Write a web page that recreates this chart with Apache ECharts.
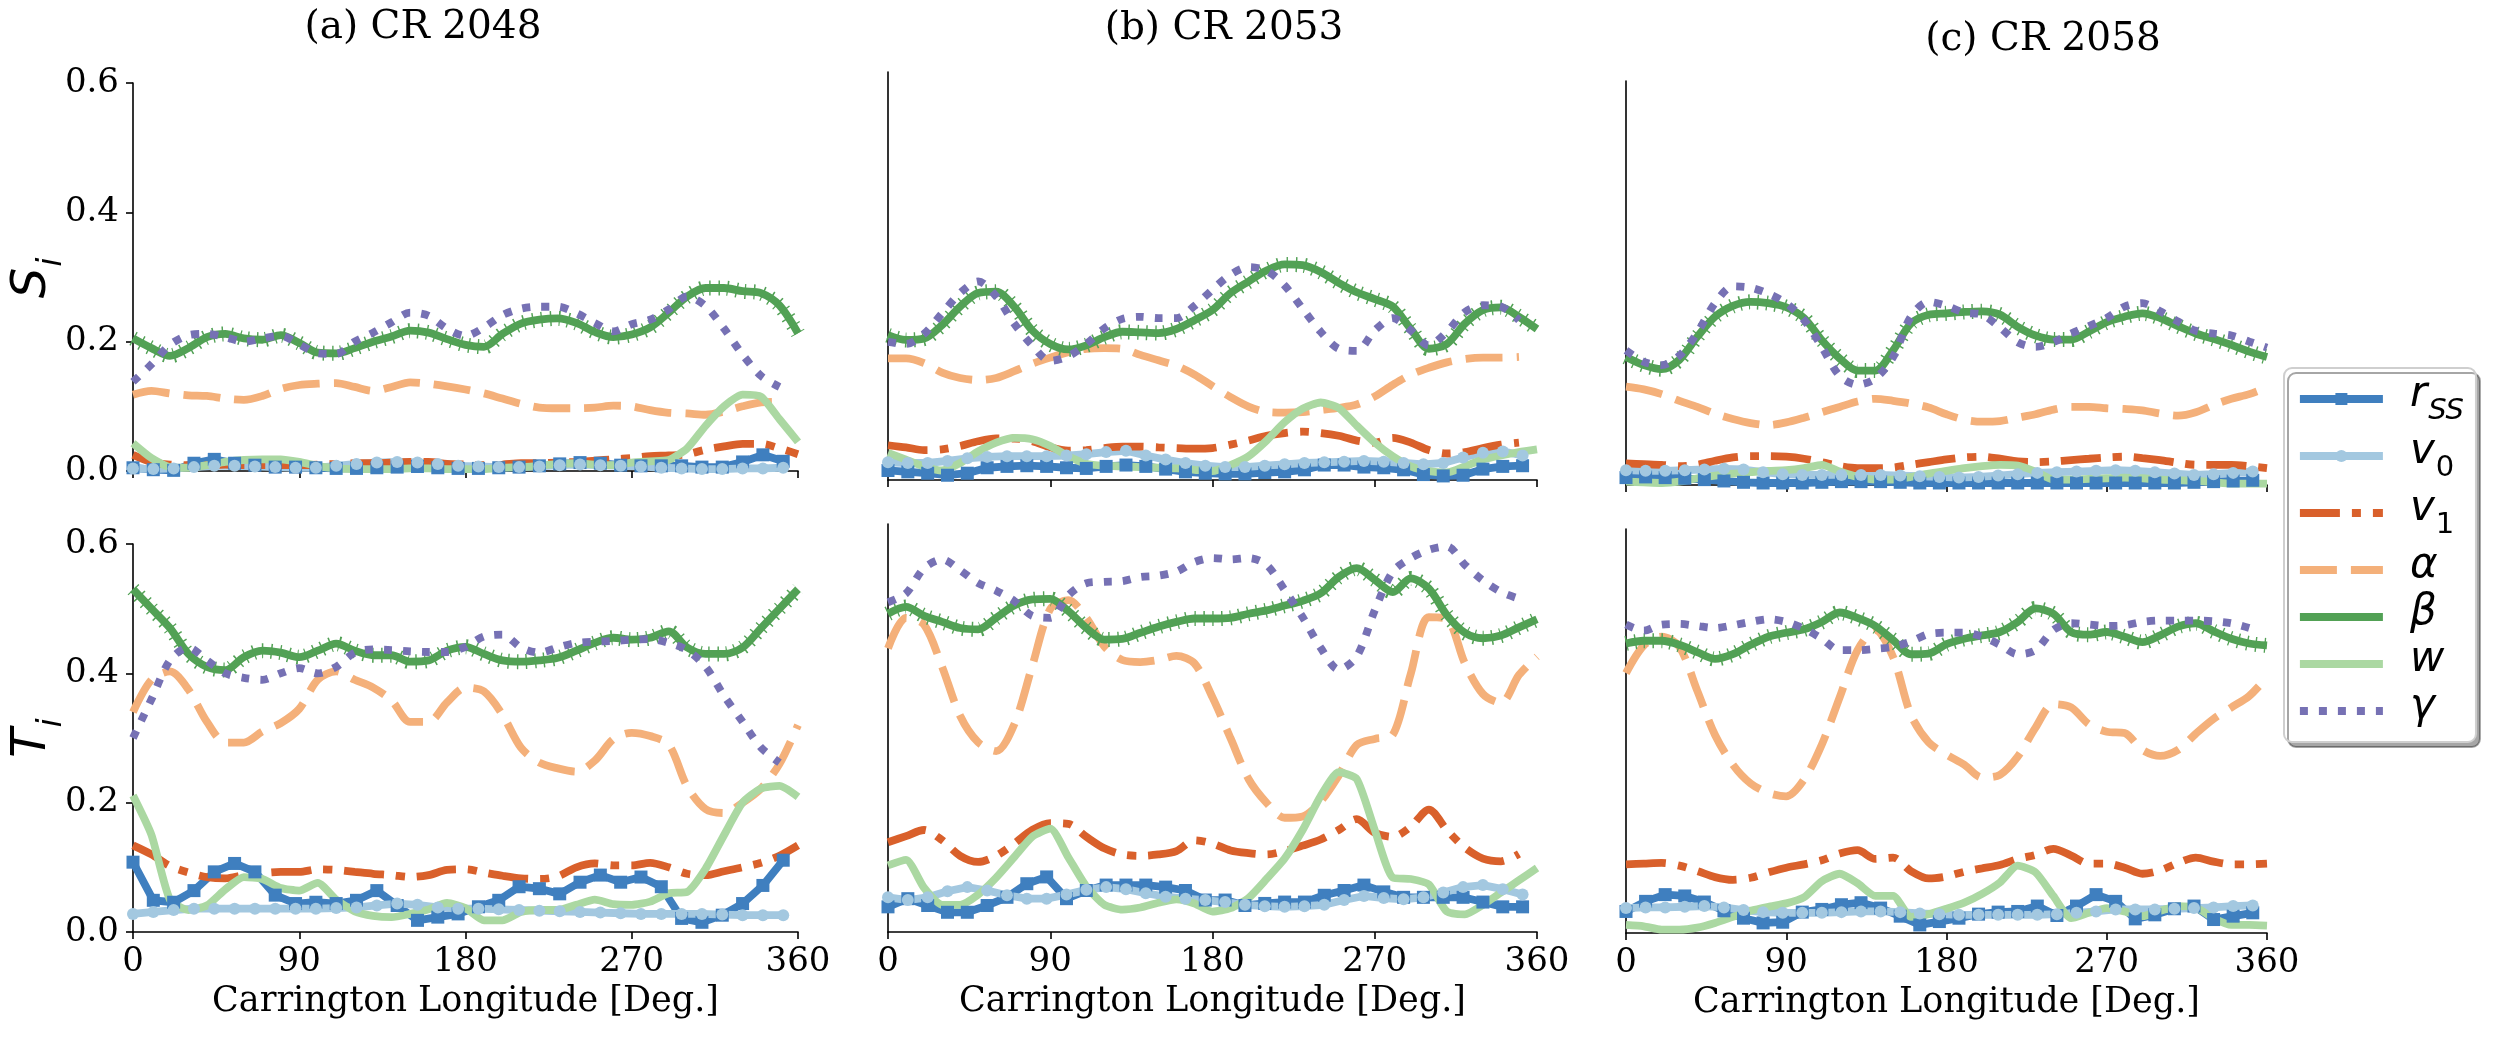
<!DOCTYPE html>
<html><head><meta charset="utf-8">
<script src="https://cdn.jsdelivr.net/npm/echarts@6/dist/echarts.min.js"></script>
<style>html,body{margin:0;padding:0;background:#fff}#c{width:2495px;height:1043px}</style>
</head><body><div id="c"></div>
<script>
// Longitude grids (degrees)
const LON = [0,10,20,30,40,50,60,70,80,90,100,110,120,130,140,150,160,170,180,190,200,210,220,230,240,250,260,270,280,290,300,310,320,330,340,350,360];
const LON_M = [0,11,22,33,44,55,66,77,88,99,110,121,132,143,154,165,176,187,198,209,220,231,242,253,264,275,286,297,308,319,330,341,352];

// (a) CR 2048, S_i
const A_S_RSS = [0.005,0.002,0.001,0.012,0.018,0.012,0.009,0.006,0.006,0.005,0.004,0.004,0.005,0.006,0.007,0.005,0.004,0.004,0.005,0.006,0.008,0.011,0.013,0.012,0.009,0.008,0.008,0.008,0.006,0.006,0.014,0.025,0.015];
const A_S_V0 = [0.004,0.003,0.004,0.006,0.008,0.008,0.007,0.006,0.005,0.005,0.008,0.011,0.013,0.014,0.013,0.011,0.008,0.007,0.006,0.006,0.007,0.009,0.01,0.009,0.008,0.007,0.005,0.004,0.003,0.003,0.004,0.004,0.005];
const A_S_V1 = [0.025,0.014,0.01,0.009,0.009,0.01,0.009,0.009,0.009,0.009,0.01,0.011,0.012,0.012,0.013,0.014,0.014,0.011,0.01,0.009,0.01,0.012,0.012,0.013,0.014,0.016,0.018,0.02,0.023,0.024,0.026,0.033,0.038,0.042,0.042,0.035,0.026];
const A_S_ALPHA = [0.118,0.124,0.12,0.117,0.116,0.112,0.11,0.116,0.127,0.133,0.135,0.136,0.13,0.124,0.13,0.137,0.135,0.131,0.126,0.12,0.112,0.104,0.098,0.097,0.097,0.098,0.101,0.1,0.094,0.09,0.089,0.087,0.092,0.1,0.106,0.107,null];
const A_S_BETA = [0.205,0.19,0.178,0.19,0.207,0.212,0.205,0.203,0.21,0.198,0.183,0.182,0.19,0.2,0.208,0.217,0.214,0.204,0.195,0.192,0.212,0.228,0.234,0.236,0.229,0.215,0.207,0.211,0.222,0.245,0.27,0.283,0.283,0.278,0.275,0.256,0.213];
const A_S_W = [0.043,0.02,0.006,0.005,0.009,0.014,0.017,0.018,0.018,0.014,0.008,0.004,0.003,0.003,0.003,0.004,0.004,0.003,0.003,0.003,0.005,0.006,0.008,0.011,0.012,0.01,0.009,0.013,0.015,0.017,0.035,0.07,0.1,0.118,0.115,0.08,0.045];
const A_S_GAMMA = [0.138,0.165,0.195,0.21,0.212,0.207,0.2,0.205,0.209,0.196,0.182,0.181,0.2,0.214,0.23,0.245,0.24,0.22,0.209,0.222,0.241,0.251,0.254,0.254,0.244,0.229,0.216,0.227,0.234,0.25,0.27,0.255,0.22,0.18,0.147,0.13,null];

// (a) CR 2048, T_i
const A_T_RSS = [0.108,0.049,0.046,0.064,0.093,0.106,0.093,0.057,0.044,0.046,0.044,0.049,0.064,0.041,0.018,0.023,0.028,0.039,0.049,0.07,0.067,0.059,0.077,0.088,0.077,0.085,0.07,0.021,0.015,0.026,0.044,0.072,0.111];
const A_T_V0 = [0.028,0.031,0.034,0.036,0.036,0.036,0.036,0.036,0.036,0.036,0.037,0.038,0.041,0.044,0.042,0.038,0.036,0.036,0.035,0.034,0.033,0.032,0.031,0.03,0.029,0.028,0.028,0.028,0.028,0.027,0.026,0.026,0.026];
const A_T_V1 = [0.134,0.12,0.102,0.092,0.085,0.083,0.088,0.091,0.093,0.093,0.097,0.096,0.093,0.09,0.088,0.085,0.088,0.096,0.097,0.092,0.087,0.083,0.082,0.086,0.1,0.106,0.103,0.103,0.107,0.1,0.09,0.088,0.094,0.1,0.107,0.118,0.134];
const A_T_ALPHA = [0.34,0.39,0.403,0.375,0.325,0.293,0.293,0.31,0.323,0.345,0.39,0.403,0.39,0.378,0.358,0.325,0.325,0.355,0.378,0.372,0.336,0.285,0.262,0.253,0.248,0.265,0.298,0.308,0.303,0.29,0.225,0.19,0.184,0.2,0.222,0.26,0.32];
const A_T_BETA = [0.53,0.5,0.47,0.43,0.41,0.405,0.425,0.435,0.432,0.425,0.435,0.446,0.435,0.428,0.428,0.418,0.42,0.435,0.441,0.43,0.42,0.418,0.42,0.424,0.435,0.447,0.455,0.452,0.455,0.465,0.44,0.43,0.43,0.44,0.47,0.5,0.53];
const A_T_W = [0.211,0.15,0.05,0.034,0.041,0.066,0.085,0.082,0.068,0.064,0.076,0.05,0.032,0.025,0.023,0.028,0.035,0.045,0.037,0.018,0.018,0.031,0.034,0.034,0.042,0.05,0.043,0.042,0.047,0.06,0.062,0.098,0.15,0.2,0.222,0.226,0.209];
const A_T_GAMMA = [0.3,0.36,0.42,0.44,0.42,0.4,0.393,0.39,0.4,0.408,0.4,0.41,0.432,0.437,0.436,0.434,0.433,0.433,0.441,0.457,0.46,0.44,0.432,0.44,0.447,0.449,0.45,0.452,0.453,0.447,0.436,0.41,0.365,0.325,0.285,0.262,null];

// (b) CR 2053, S_i
const B_S_RSS = [0.014,0.012,0.01,0.007,0.01,0.018,0.02,0.021,0.02,0.018,0.017,0.02,0.022,0.02,0.016,0.012,0.01,0.009,0.009,0.011,0.012,0.015,0.022,0.022,0.019,0.018,0.015,0.008,0.006,0.007,0.016,0.02,0.021];
const B_S_V0 = [0.026,0.025,0.025,0.028,0.032,0.034,0.035,0.035,0.035,0.036,0.038,0.041,0.043,0.036,0.03,0.025,0.021,0.019,0.019,0.021,0.023,0.025,0.026,0.027,0.028,0.027,0.025,0.023,0.025,0.033,0.04,0.042,0.036];
const B_S_V1 = [0.051,0.048,0.044,0.045,0.05,0.057,0.061,0.061,0.057,0.048,0.043,0.044,0.047,0.049,0.049,0.048,0.047,0.046,0.047,0.052,0.058,0.065,0.069,0.071,0.069,0.065,0.058,0.055,0.062,0.055,0.044,0.039,0.041,0.047,0.052,0.055,null];
const B_S_ALPHA = [0.179,0.179,0.172,0.158,0.15,0.147,0.15,0.16,0.171,0.18,0.188,0.193,0.194,0.193,0.184,0.176,0.168,0.155,0.138,0.122,0.108,0.1,0.099,0.1,0.103,0.106,0.111,0.123,0.14,0.155,0.165,0.173,0.178,0.18,0.18,0.181,null];
const B_S_BETA = [0.213,0.206,0.208,0.228,0.255,0.275,0.277,0.255,0.22,0.2,0.192,0.198,0.21,0.218,0.217,0.216,0.222,0.235,0.25,0.275,0.292,0.308,0.317,0.316,0.306,0.29,0.276,0.266,0.255,0.222,0.193,0.2,0.23,0.25,0.254,0.24,0.222];
const B_S_W = [0.04,0.03,0.02,0.014,0.025,0.042,0.055,0.062,0.06,0.05,0.035,0.024,0.021,0.02,0.019,0.018,0.017,0.015,0.013,0.022,0.035,0.058,0.085,0.105,0.114,0.106,0.08,0.055,0.035,0.02,0.013,0.011,0.02,0.03,0.036,0.041,0.045];
const B_S_GAMMA = [0.203,0.2,0.215,0.245,0.275,0.292,0.27,0.23,0.198,0.175,0.182,0.2,0.223,0.237,0.24,0.238,0.238,0.256,0.28,0.302,0.313,0.308,0.286,0.252,0.218,0.193,0.19,0.22,0.238,0.22,0.198,0.218,0.247,0.257,0.255,0.235,null];

// (b) CR 2053, T_i
const B_T_RSS = [0.037,0.049,0.039,0.029,0.029,0.039,0.051,0.071,0.081,0.049,0.061,0.069,0.069,0.069,0.066,0.061,0.047,0.047,0.039,0.042,0.044,0.044,0.054,0.061,0.069,0.059,0.051,0.051,0.051,0.051,0.044,0.037,0.037];
const B_T_V0 = [0.051,0.047,0.051,0.06,0.066,0.061,0.054,0.049,0.049,0.055,0.062,0.066,0.063,0.057,0.052,0.049,0.047,0.044,0.04,0.038,0.037,0.038,0.04,0.047,0.053,0.05,0.048,0.051,0.058,0.066,0.069,0.063,0.055];
const B_T_V1 = [0.132,0.141,0.15,0.135,0.112,0.103,0.112,0.13,0.15,0.16,0.159,0.14,0.123,0.114,0.112,0.114,0.119,0.135,0.13,0.12,0.116,0.114,0.119,0.127,0.136,0.15,0.166,0.146,0.14,0.155,0.18,0.15,0.124,0.108,0.104,0.115,null];
const B_T_ALPHA = [0.417,0.462,0.452,0.39,0.318,0.279,0.266,0.305,0.391,0.475,0.488,0.462,0.42,0.4,0.397,0.4,0.406,0.395,0.345,0.285,0.225,0.19,0.168,0.17,0.192,0.23,0.275,0.284,0.29,0.38,0.463,0.46,0.395,0.35,0.337,0.378,0.405];
const B_T_BETA = [0.468,0.478,0.465,0.456,0.447,0.445,0.462,0.48,0.489,0.49,0.472,0.447,0.43,0.431,0.44,0.449,0.456,0.461,0.461,0.462,0.468,0.473,0.48,0.487,0.498,0.522,0.535,0.518,0.5,0.52,0.505,0.466,0.44,0.432,0.436,0.448,0.46];
const B_T_W = [0.098,0.106,0.065,0.04,0.04,0.055,0.08,0.11,0.14,0.152,0.11,0.067,0.04,0.033,0.036,0.043,0.048,0.042,0.03,0.035,0.05,0.078,0.108,0.15,0.2,0.235,0.225,0.15,0.08,0.078,0.07,0.03,0.026,0.04,0.058,0.076,0.094];
const B_T_GAMMA = [0.485,0.498,0.535,0.548,0.532,0.513,0.502,0.487,0.465,0.462,0.495,0.513,0.515,0.516,0.522,0.524,0.53,0.544,0.55,0.548,0.55,0.54,0.503,0.463,0.418,0.386,0.405,0.473,0.53,0.55,0.562,0.567,0.54,0.517,0.5,0.49,null];

// (c) CR 2058, S_i
const C_S_RSS = [0.011,0.012,0.011,0.01,0.008,0.006,0.004,0.003,0.003,0.003,0.004,0.005,0.005,0.005,0.004,0.003,0.003,0.003,0.003,0.003,0.003,0.003,0.003,0.003,0.003,0.003,0.003,0.003,0.003,0.004,0.005,0.006,0.007];
const C_S_V0 = [0.022,0.021,0.021,0.022,0.023,0.024,0.023,0.019,0.016,0.015,0.015,0.015,0.015,0.015,0.014,0.013,0.012,0.011,0.012,0.014,0.016,0.018,0.019,0.02,0.021,0.022,0.021,0.019,0.017,0.015,0.016,0.018,0.02];
const C_S_V1 = [0.032,0.031,0.03,0.028,0.03,0.036,0.041,0.043,0.043,0.042,0.039,0.034,0.028,0.025,0.025,0.026,0.03,0.034,0.038,0.041,0.042,0.039,0.035,0.034,0.035,0.037,0.039,0.041,0.042,0.04,0.037,0.033,0.03,0.03,0.03,0.028,0.025];
const C_S_ALPHA = [0.146,0.142,0.135,0.125,0.116,0.106,0.098,0.092,0.089,0.093,0.1,0.108,0.116,0.124,0.128,0.125,0.121,0.115,0.105,0.097,0.094,0.095,0.1,0.105,0.112,0.116,0.116,0.114,0.113,0.111,0.106,0.103,0.108,0.119,0.128,0.135,0.145];
const C_S_BETA = [0.19,0.178,0.172,0.186,0.22,0.25,0.266,0.272,0.27,0.264,0.248,0.215,0.188,0.17,0.17,0.2,0.24,0.253,0.255,0.257,0.258,0.253,0.235,0.222,0.216,0.216,0.228,0.242,0.25,0.255,0.248,0.236,0.225,0.217,0.208,0.198,0.19];
const C_S_W = [0.005,0.004,0.003,0.005,0.01,0.014,0.017,0.019,0.021,0.022,0.025,0.03,0.02,0.012,0.008,0.008,0.012,0.017,0.021,0.025,0.028,0.03,0.029,0.02,0.008,0.008,0.009,0.01,0.011,0.01,0.008,0.007,0.006,0.004,0.002,0.002,0.002];
const C_S_GAMMA = [0.2,0.183,0.178,0.192,0.226,0.27,0.295,0.293,0.284,0.27,0.245,0.205,0.162,0.149,0.158,0.19,0.25,0.272,0.266,0.256,0.253,0.234,0.212,0.205,0.212,0.225,0.236,0.248,0.265,0.27,0.258,0.243,0.229,0.225,0.222,0.213,0.204];

// (c) CR 2058, T_i
const C_T_RSS = [0.032,0.047,0.057,0.055,0.046,0.033,0.022,0.015,0.016,0.031,0.035,0.042,0.045,0.037,0.025,0.012,0.017,0.022,0.028,0.031,0.032,0.04,0.026,0.04,0.057,0.047,0.021,0.027,0.036,0.04,0.02,0.025,0.03];
const C_T_V0 = [0.037,0.038,0.038,0.039,0.04,0.038,0.034,0.031,0.03,0.03,0.03,0.031,0.032,0.032,0.031,0.029,0.028,0.027,0.027,0.027,0.027,0.027,0.028,0.03,0.032,0.035,0.035,0.035,0.036,0.037,0.038,0.04,0.041];
const C_T_V1 = [0.102,0.103,0.104,0.1,0.092,0.083,0.079,0.082,0.09,0.097,0.102,0.108,0.118,0.123,0.11,0.112,0.092,0.081,0.084,0.091,0.096,0.101,0.11,0.116,0.125,0.115,0.103,0.103,0.097,0.088,0.093,0.104,0.112,0.106,0.102,0.102,0.103];
const C_T_ALPHA = [0.386,0.427,0.44,0.425,0.36,0.294,0.25,0.222,0.208,0.203,0.228,0.28,0.35,0.42,0.45,0.41,0.324,0.283,0.265,0.25,0.231,0.235,0.262,0.305,0.34,0.335,0.31,0.299,0.297,0.272,0.263,0.272,0.296,0.318,0.335,0.352,0.38];
const C_T_BETA = [0.43,0.434,0.434,0.428,0.417,0.407,0.414,0.428,0.44,0.446,0.451,0.462,0.476,0.468,0.456,0.435,0.414,0.415,0.429,0.437,0.442,0.447,0.462,0.482,0.474,0.447,0.443,0.447,0.44,0.432,0.442,0.455,0.46,0.448,0.437,0.43,0.427];
const C_T_W = [0.012,0.01,0.005,0.005,0.008,0.015,0.024,0.033,0.039,0.044,0.053,0.077,0.088,0.074,0.055,0.055,0.024,0.028,0.036,0.045,0.058,0.075,0.1,0.09,0.055,0.022,0.03,0.037,0.032,0.025,0.033,0.04,0.038,0.022,0.012,0.012,0.011];
const C_T_GAMMA = [0.458,0.449,0.458,0.459,0.456,0.453,0.457,0.462,0.466,0.462,0.452,0.437,0.42,0.42,0.422,0.425,0.433,0.444,0.446,0.446,0.44,0.428,0.414,0.42,0.45,0.46,0.458,0.456,0.457,0.462,0.464,0.464,0.464,0.463,0.46,0.453,null];

const TITLES = ['(a) CR 2048', '(b) CR 2053', '(c) CR 2058'];
const X_TICKS = [0, 90, 180, 270, 360];
const Y_TICKS = [0, 0.2, 0.4, 0.6];

// ---------- build ----------
const COL = {rss:'#3f7fbf', v0:'#a3c8e0', v1:'#d9602b', alpha:'#f4b07a', beta:'#52a155', w:'#abd8a2', gamma:'#7671b4'};
const LW = 7.8;
const SERIF = '"DejaVu Serif", serif';
const SANS = '"DejaVu Sans", sans-serif';

const PANELS = [
  {g:{left:133, top:83,  width:665, height:388}, lab:true,  bot:false, d:[A_S_RSS,A_S_V0,A_S_V1,A_S_ALPHA,A_S_BETA,A_S_W,A_S_GAMMA]},
  {g:{left:133, top:544, width:665, height:388}, lab:true,  bot:true,  d:[A_T_RSS,A_T_V0,A_T_V1,A_T_ALPHA,A_T_BETA,A_T_W,A_T_GAMMA]},
  {g:{left:888, top:72,  width:649, height:408}, lab:false, bot:false, d:[B_S_RSS,B_S_V0,B_S_V1,B_S_ALPHA,B_S_BETA,B_S_W,B_S_GAMMA]},
  {g:{left:888, top:524, width:649, height:408}, lab:false, bot:true,  d:[B_T_RSS,B_T_V0,B_T_V1,B_T_ALPHA,B_T_BETA,B_T_W,B_T_GAMMA]},
  {g:{left:1626, top:81, width:641, height:404}, lab:false, bot:false, d:[C_S_RSS,C_S_V0,C_S_V1,C_S_ALPHA,C_S_BETA,C_S_W,C_S_GAMMA]},
  {g:{left:1626, top:529, width:641, height:404}, lab:false, bot:true, d:[C_T_RSS,C_T_V0,C_T_V1,C_T_ALPHA,C_T_BETA,C_T_W,C_T_GAMMA]}
];

function pair(xs, ys){ return xs.map((x,i)=>[x, ys[i] === undefined ? null : ys[i]]); }

const grids=[], xAxes=[], yAxes=[], series=[];
PANELS.forEach((p,i)=>{
  grids.push(Object.assign({containLabel:false}, p.g));
  xAxes.push({
    type:'value', gridIndex:i, min:X_TICKS[0], max:X_TICKS[X_TICKS.length-1], interval:90,
    axisLine:{show:true, onZero:false, lineStyle:{color:'#000', width:1.6}},
    axisTick:{show:true, length:7, lineStyle:{color:'#000', width:1.6}},
    splitLine:{show:false},
    axisLabel:{show:p.bot, fontFamily:SERIF, fontSize:34, color:'#000', margin:13},
    name: p.bot ? 'Carrington Longitude [Deg.]' : '',
    nameLocation:'middle', nameGap:52,
    nameTextStyle:{fontFamily:SERIF, fontSize:35, color:'#000'}
  });
  yAxes.push({
    type:'value', gridIndex:i, min:Y_TICKS[0], max:Y_TICKS[Y_TICKS.length-1], interval:0.2,
    axisLine:{show:true, onZero:false, lineStyle:{color:'#000', width:1.6}},
    axisTick:{show:p.lab, length:7, lineStyle:{color:'#000', width:1.6}},
    splitLine:{show:false},
    axisLabel:{show:p.lab, fontFamily:SERIF, fontSize:34, color:'#000', margin:14, formatter:v=>v.toFixed(1)}
  });
  const base = {type:'line', xAxisIndex:i, yAxisIndex:i, silent:true, animation:false, clip:true};
  const [rss,v0,v1,al,be,w,ga] = p.d;
  series.push(Object.assign({}, base, {name:'rss', data:pair(LON_M,rss), symbol:'rect', symbolSize:13, showSymbol:true, showAllSymbol:true,
    lineStyle:{color:COL.rss, width:LW}, itemStyle:{color:COL.rss}, z:2}));
  series.push(Object.assign({}, base, {name:'v0', data:pair(LON_M,v0), symbol:'circle', symbolSize:12, showSymbol:true, showAllSymbol:true,
    lineStyle:{color:COL.v0, width:LW}, itemStyle:{color:COL.v0}, z:2}));
  series.push(Object.assign({}, base, {name:'v1', data:pair(LON,v1), symbol:'circle', showSymbol:false, smooth:0.3,
    lineStyle:{color:COL.v1, width:LW, type:[40,12,9,12]}, itemStyle:{color:COL.v1}, z:2}));
  series.push(Object.assign({}, base, {name:'alpha', data:pair(LON,al), symbol:'circle', showSymbol:false, smooth:0.3,
    lineStyle:{color:COL.alpha, width:LW, type:[37,14]}, itemStyle:{color:COL.alpha}, z:2}));
  series.push(Object.assign({}, base, {name:'beta', data:pair(LON,be), symbol:'circle', showSymbol:false, smooth:0.3,
    lineStyle:{color:COL.beta, width:LW}, itemStyle:{color:COL.beta}, z:2}));
  series.push(Object.assign({}, base, {name:'beta_marks', data:pair(LON,be), symbol:'none', smooth:0.3,
    lineStyle:{color:COL.beta, width:15, type:[1.4,7.5]}, z:2}));
  series.push(Object.assign({}, base, {name:'w', data:pair(LON,w), symbol:'circle', showSymbol:false, smooth:0.2,
    lineStyle:{color:COL.w, width:LW}, itemStyle:{color:COL.w}, z:2}));
  series.push(Object.assign({}, base, {name:'gamma', data:pair(LON,ga), symbol:'circle', showSymbol:false, smooth:0.3,
    lineStyle:{color:COL.gamma, width:LW, type:[8,11]}, itemStyle:{color:COL.gamma}, z:2}));
});

const LEG_TEXT = {
  rss:'{g|}{m|r}{s|SS}', v0:'{g|}{m|v}{n|0}', v1:'{g|}{m|v}{n|1}',
  alpha:'{g|}{m|α}', beta:'{g|}{m|β}', w:'{g|}{m|w}', gamma:'{g|}{m|γ}'
};
const mathRich = (big, small, drop, lh) => ({
  g:{width:22},
  m:{fontFamily:SANS, fontStyle:'italic', fontSize:big, lineHeight:lh, verticalAlign:'top', color:'#000'},
  s:{fontFamily:SANS, fontStyle:'italic', fontSize:small, lineHeight:small+2, padding:[drop,0,0,1], verticalAlign:'top', color:'#000'},
  n:{fontFamily:SANS, fontSize:small, lineHeight:small+2, padding:[drop,0,0,1], verticalAlign:'top', color:'#000'}
});

const hidden = {opacity:0};
const option = {
  animation:false,
  backgroundColor:'#fff',
  grid:grids, xAxis:xAxes, yAxis:yAxes, series:series,
  legend:{
    data:[{name:'rss'},{name:'v0'},{name:'v1', itemStyle:hidden},{name:'alpha', itemStyle:hidden},
          {name:'beta', itemStyle:hidden},{name:'w', itemStyle:hidden},{name:'gamma', itemStyle:hidden}],
    orient:'vertical', left:2284, top:368,
    itemWidth:83, itemHeight:15, itemGap:5,
    padding:[6,12,14,12],
    backgroundColor:'#fff', borderColor:'#cfcfcf', borderWidth:2, borderRadius:8,
    shadowColor:'rgba(0,0,0,0.35)', shadowOffsetX:4, shadowOffsetY:5, shadowBlur:0,
    selectedMode:false,
    lineStyle:{width:LW},
    formatter:n=>LEG_TEXT[n],
    textStyle:{rich:mathRich(42, 29, 23, 50)}
  },
  graphic:[
    {type:'text', x:423, y:28, style:{text:TITLES[0], font:'39px "DejaVu Serif"', fill:'#000', align:'center', verticalAlign:'middle'}},
    {type:'text', x:1224, y:29, style:{text:TITLES[1], font:'39px "DejaVu Serif"', fill:'#000', align:'center', verticalAlign:'middle'}},
    {type:'text', x:2043, y:40, style:{text:TITLES[2], font:'39px "DejaVu Serif"', fill:'#000', align:'center', verticalAlign:'middle'}},
    {type:'text', x:36, y:278, rotation:Math.PI/2, style:{text:'{m|S}{s|i}', rich:mathRich(48, 33, 27, 54), align:'center', verticalAlign:'middle'}},
    {type:'text', x:36, y:738, rotation:Math.PI/2, style:{text:'{m|T}{s|i}', rich:mathRich(48, 33, 27, 54), align:'center', verticalAlign:'middle'}}
  ]
};
const chart = echarts.init(document.getElementById('c'), null, {renderer:'canvas', width:2495, height:1043});
chart.setOption(option);
</script>
</body></html>
